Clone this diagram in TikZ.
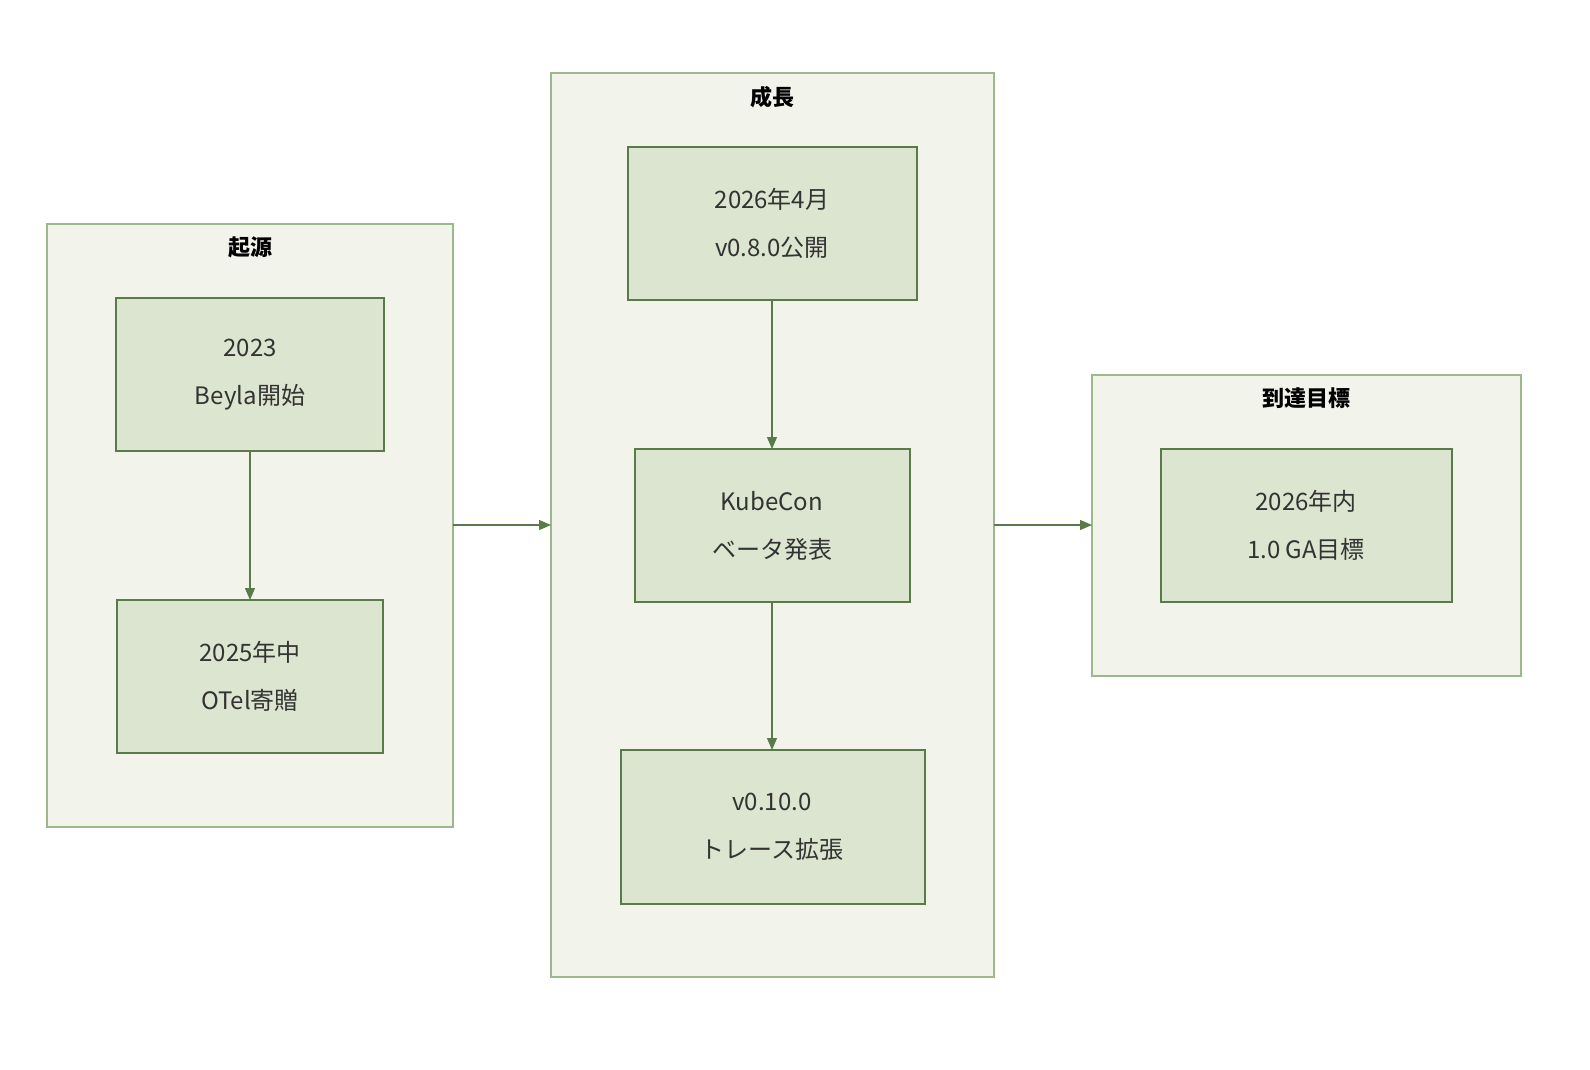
\documentclass[tikz,border=0pt]{standalone}
\usepackage{fontspec}
\setmainfont{Noto Sans CJK JP}
\usetikzlibrary{arrows.meta}
\definecolor{cfill}{HTML}{F2F4EC}
\definecolor{cline}{HTML}{9DB88A}
\definecolor{nfill}{HTML}{DCE5CF}
\definecolor{nline}{HTML}{5A7A4A}
\definecolor{txt}{HTML}{333333}
\begin{document}
\begin{tikzpicture}[x=1pt,y=-1pt,
  clus/.style={draw=cline,fill=cfill,line width=1.2pt},
  box/.style={draw=nline,fill=nfill,line width=1.2pt},
  lbl/.style={text=txt,align=center,font=\fontsize{24}{48}\selectfont},
  ttl/.style={text=black,font=\bfseries\fontsize{22}{26}\selectfont},
  arr/.style={draw=nline,line width=1.2pt,-{Triangle[length=12pt,width=10pt]}}]
\useasboundingbox (0,0) rectangle (1590,1070);
\draw[clus] (47,224) rectangle (453,827);
\draw[clus] (551,73) rectangle (994,977);
\draw[clus] (1092,375) rectangle (1521,676);
\coordinate (c1e) at (453,525);
\coordinate (c2w) at (551,525);
\coordinate (c2e) at (994,525);
\coordinate (c3w) at (1092,525);
\node[ttl] (t1) at (250,247) {起源};
\node[ttl] (t2) at (772,97) {成長};
\node[ttl] (t3) at (1306,398) {到達目標};
\draw[box] (116,298) rectangle (384,451); \node[lbl] (a) at (250,374.5) {2023\\Beyla開始};
\coordinate (an) at (250,298); \coordinate (as) at (250,451);
\draw[box] (117,600) rectangle (383,753); \node[lbl] (b) at (250,676.5) {2025年中\\OTel寄贈};
\coordinate (bn) at (250,600);
\draw[box] (628,147) rectangle (917,300); \node[lbl] (c) at (772,223.5) {2026年4月\\v0.8.0公開};
\coordinate (cs) at (772,300);
\draw[box] (635,449) rectangle (910,602); \node[lbl] (d) at (772,525.5) {KubeCon\\ベータ発表};
\coordinate (dn) at (772,449); \coordinate (ds) at (772,602);
\draw[box] (621,750) rectangle (925,904); \node[lbl] (e) at (772,827) {v0.10.0\\トレース拡張};
\coordinate (en) at (772,750);
\draw[box] (1161,449) rectangle (1452,602); \node[lbl] (f) at (1306,525.5) {2026年内\\1.0 GA目標};
\draw[arr] (as) -- (bn);
\draw[arr] (cs) -- (dn);
\draw[arr] (ds) -- (en);
\draw[arr] (c1e) -- (c2w);
\draw[arr] (c2e) -- (c3w);
\end{tikzpicture}
\end{document}
